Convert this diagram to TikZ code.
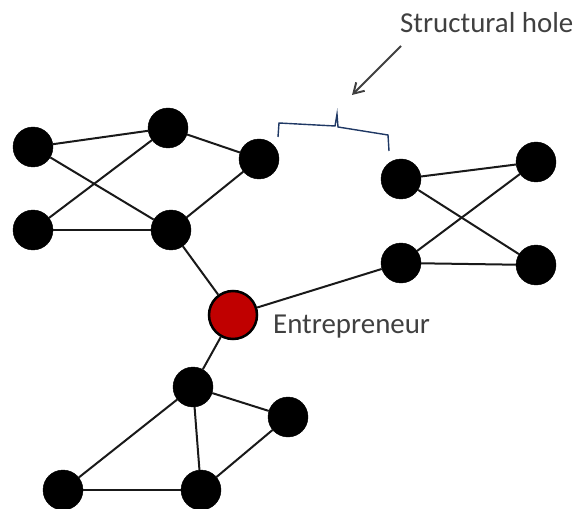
\documentclass[tikz,border=0pt]{standalone}
\usepackage{fontspec}
\setmainfont{Carlito}
\usetikzlibrary{arrows.meta}
\definecolor{entred}{HTML}{C00000}
\definecolor{bracecol}{HTML}{1F3864}
\definecolor{txtgray}{HTML}{404040}

\begin{document}
\begin{tikzpicture}[x=1bp,y=-1bp,
	person/.style={draw=black,fill=black,circle,minimum width=40bp,inner sep=0pt},
	tie/.style={draw=black!90,line width=2bp}]
	\useasboundingbox (0,0) rectangle (580,509);

	\node[person] (a1) at (33,147) {};
	\node[person] (a2) at (168,128) {};
	\node[person] (a3) at (259,159) {};
	\node[person] (a4) at (33,230) {};
	\node[person] (a5) at (171,230) {};

	\node[person] (b1) at (401,179) {};
	\node[person] (b2) at (536,162) {};
	\node[person] (b3) at (401,263) {};
	\node[person] (b4) at (536,265) {};

	\node[person] (c1) at (193,387) {};
	\node[person] (c2) at (288,417) {};
	\node[person] (c3) at (63,490) {};
	\node[person] (c4) at (201,490) {};

	\node[draw=black,fill=entred,circle,line width=2.5bp,minimum width=48bp,inner sep=0pt] (e) at (233,315) {};
	\node[anchor=west,text=txtgray,font=\fontsize{29}{31}\selectfont,inner sep=0pt] (elabel) at (273,327) {Entrepreneur};

	\path[tie] (a1) -- (a2);
	\path[tie] (a1) -- (a5);
	\path[tie] (a4) -- (a2);
	\path[tie] (a4) -- (a5);
	\path[tie] (a2) -- (a3);
	\path[tie] (a3) -- (a5);
	\path[tie] (a5) -- (e);

	\path[tie] (b1) -- (b2);
	\path[tie] (b1) -- (b4);
	\path[tie] (b3) -- (b2);
	\path[tie] (b3) -- (b4);
	\path[tie] (e) -- (b3);

	\path[tie] (e) -- (c1);
	\path[tie] (c1) -- (c2);
	\path[tie] (c1) -- (c3);
	\path[tie] (c1) -- (c4);
	\path[tie] (c3) -- (c4);
	\path[tie] (c2) -- (c4);

	% the gap between the two groups
	\coordinate (holeL) at (278,137);
	\coordinate (holeR) at (389,151);
	\draw[bracecol,line width=1.4bp] (holeL) -- (279,123) -- (335,126) -- (337,114) -- (338,127) -- (388,135) -- (holeR);

	\node[anchor=west,text=txtgray,font=\fontsize{29}{31}\selectfont,inner sep=0pt] (hole) at (400,23) {Structural hole};
	\coordinate (holestart) at (401,46);
	\coordinate (holetip) at (352,95);
	\path[->,>={Straight Barb[length=10bp,width=12bp]},draw=txtgray,line width=2bp] (holestart) -- (holetip);

\end{tikzpicture}
\end{document}
